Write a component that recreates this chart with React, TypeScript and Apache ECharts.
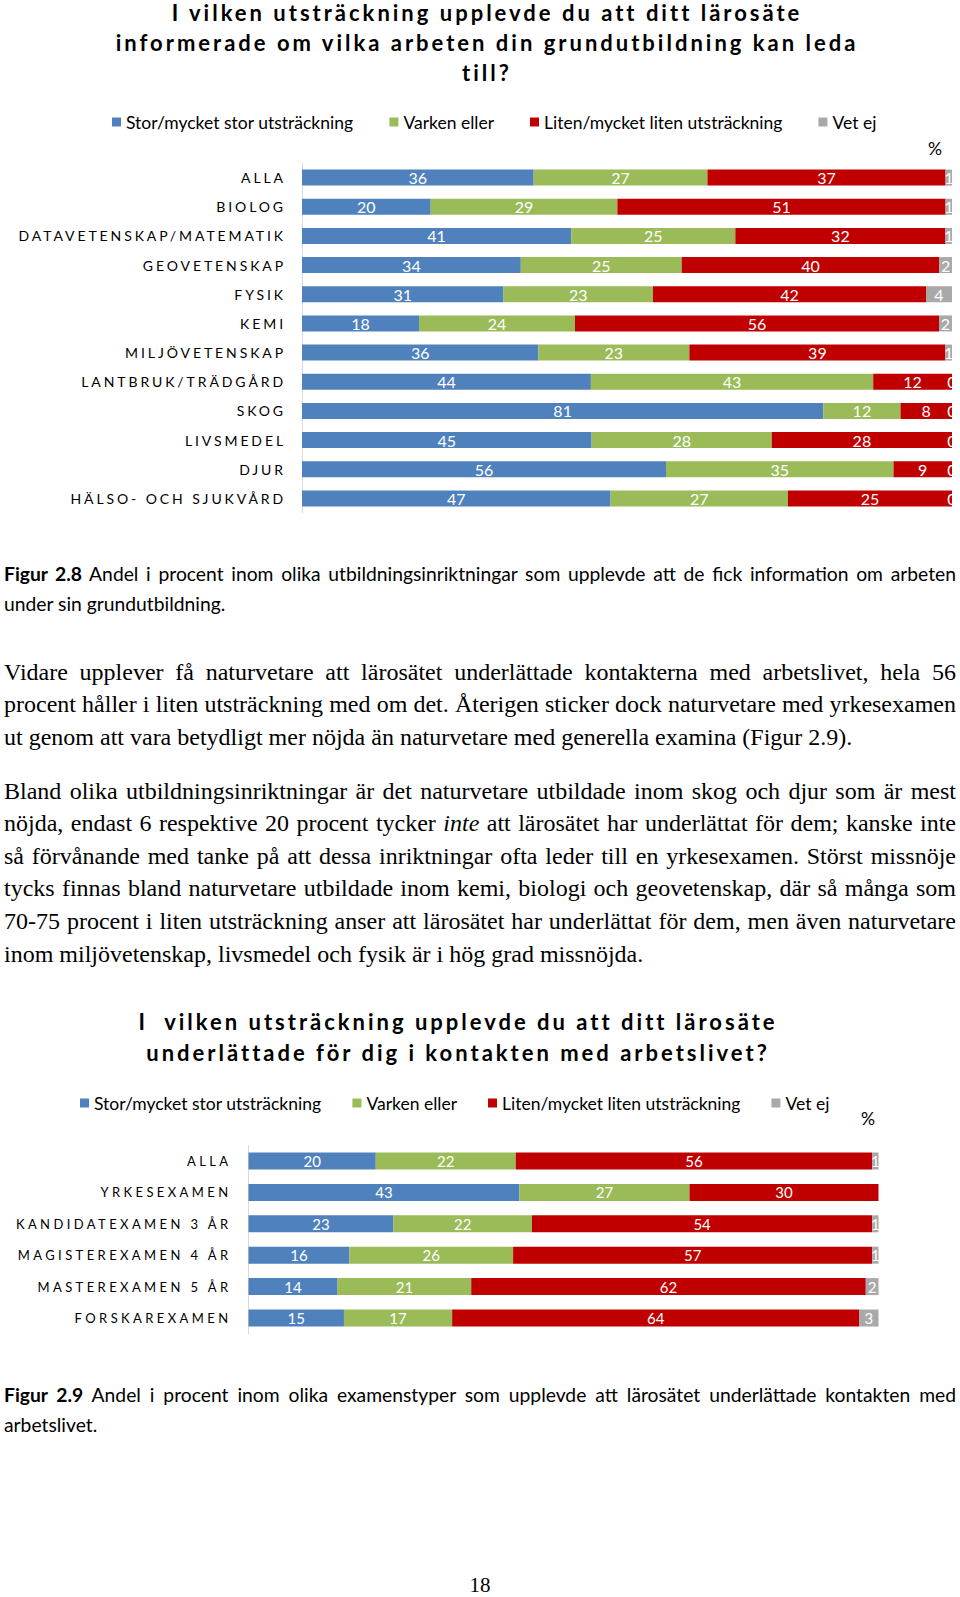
import React, { useEffect, useRef } from 'react';
import * as echarts from 'echarts';

// ---------- data ----------
const SERIES_NAMES = ['Stor/mycket stor utsträckning', 'Varken eller', 'Liten/mycket liten utsträckning', 'Vet ej'];
const COLORS = ['#4F81BD', '#9BBB59', '#C00000', '#A9A9A9'];

const fig1Title = [
  'I vilken utsträckning upplevde du att ditt lärosäte',
  'informerade om vilka arbeten din grundutbildning kan leda',
  'till?',
];
const fig1Categories = [
  'ALLA', 'BIOLOG', 'DATAVETENSKAP/MATEMATIK', 'GEOVETENSKAP', 'FYSIK', 'KEMI',
  'MILJÖVETENSKAP', 'LANTBRUK/TRÄDGÅRD', 'SKOG', 'LIVSMEDEL', 'DJUR', 'HÄLSO- OCH SJUKVÅRD',
];
const fig1Stor = [36, 20, 41, 34, 31, 18, 36, 44, 81, 45, 56, 47];
const fig1Varken = [27, 29, 25, 25, 23, 24, 23, 43, 12, 28, 35, 27];
const fig1Liten = [37, 51, 32, 40, 42, 56, 39, 12, 8, 28, 9, 25];
const fig1VetEj = [1, 1, 1, 2, 4, 2, 1, 0, 0, 0, 0, 0];

const fig2Title = [
  'I  vilken utsträckning upplevde du att ditt lärosäte',
  'underlättade för dig i kontakten med arbetslivet?',
];
const fig2Categories = [
  'ALLA', 'YRKESEXAMEN', 'KANDIDATEXAMEN 3 ÅR', 'MAGISTEREXAMEN 4 ÅR', 'MASTEREXAMEN 5 ÅR', 'FORSKAREXAMEN',
];
const fig2Stor = [20, 43, 23, 16, 14, 15];
const fig2Varken = [22, 27, 22, 26, 21, 17];
const fig2Liten = [56, 30, 54, 57, 62, 64];
const fig2VetEj: (number | null)[] = [1, null, 1, 1, 2, 3];

// ---------- helpers ----------
type Cfg = {
  title: string[];
  titleX: number;
  titleY: number;
  titleLineHeight: number;
  categories: string[];
  values: (number | null)[][];
  grid: { left: number; top: number; width: number; height: number };
  barWidth: number;
  labelFont: number;
  labelMargin: number;
  valueFont: number;
  legendLeft: number;
  legendTop: number;
  legendGap: number;
  pctX: number;
  pctY: number;
};

function buildOption(cfg: Cfg): any {
  const totals = cfg.categories.map((_, i) =>
    cfg.values.reduce((s, arr) => s + (arr[i] == null ? 0 : (arr[i] as number)), 0)
  );
  const series = cfg.values.map((arr, k) => ({
    type: 'bar',
    name: SERIES_NAMES[k],
    stack: 'total',
    barWidth: cfg.barWidth,
    silent: true,
    itemStyle: { color: COLORS[k] },
    label: {
      show: true,
      position: 'inside',
      color: '#ffffff',
      fontFamily: 'Lato',
      fontSize: cfg.valueFont,
      formatter: (p: any) => (p.data && p.data.raw != null ? String(p.data.raw) : ''),
    },
    data: arr.map((v, i) => (v == null ? '-' : { value: (v / totals[i]) * 100, raw: v })),
  }));
  return {
    animation: false,
    backgroundColor: 'transparent',
    legend: {
      data: SERIES_NAMES,
      left: cfg.legendLeft,
      top: cfg.legendTop,
      padding: 0,
      itemWidth: 9,
      itemHeight: 9,
      itemGap: cfg.legendGap,
      icon: 'rect',
      selectedMode: false,
      textStyle: { fontFamily: 'Lato', fontSize: 17.5, color: '#000' },
    },
    grid: { ...cfg.grid },
    xAxis: { type: 'value', min: 0, max: 100, show: false },
    yAxis: {
      type: 'category',
      inverse: true,
      data: cfg.categories,
      axisLine: { show: true, lineStyle: { color: '#D9D9D9', width: 1 } },
      axisTick: { show: false },
      splitLine: { show: false },
      axisLabel: {
        interval: 0,
        margin: cfg.labelMargin,
        fontFamily: 'Lato',
        fontSize: cfg.labelFont,
        color: '#000',
      },
    },
    graphic: [
      {
        type: 'text',
        x: cfg.titleX,
        y: cfg.titleY,
        silent: true,
        style: {
          text: cfg.title.join('\n'),
          fontFamily: 'Lato',
          fontWeight: 'bold',
          fontSize: 22,
          lineHeight: cfg.titleLineHeight,
          fill: '#000',
          align: 'center',
          verticalAlign: 'middle',
        },
      },
      {
        type: 'text',
        x: cfg.pctX,
        y: cfg.pctY,
        silent: true,
        style: {
          text: '%',
          fontFamily: 'Lato',
          fontSize: 17.5,
          fill: '#000',
          align: 'center',
          verticalAlign: 'middle',
        },
      },
    ],
    series,
  };
}

function applySpacing(el: HTMLElement, rules: { set: Set<string>; spacing: number }[]) {
  el.querySelectorAll('text').forEach((t) => {
    const s = (t.textContent || '').trim();
    for (const r of rules) {
      if (r.set.has(s)) {
        t.setAttribute('letter-spacing', r.spacing + 'px');
        break;
      }
    }
  });
}

function BarChart({ cfg, width, height, top, catSpacing, titleSpacing }: any) {
  const ref = useRef<HTMLDivElement>(null);
  useEffect(() => {
    if (!ref.current) return;
    const el = ref.current;
    const chart = echarts.init(el, undefined, { renderer: 'svg' });
    const rules = [
      { set: new Set(cfg.categories.map((c: string) => c.trim())), spacing: catSpacing },
      { set: new Set(cfg.title.map((c: string) => c.trim())), spacing: titleSpacing },
    ];
    const apply = () => applySpacing(el, rules);
    chart.on('finished', apply);
    chart.setOption(buildOption(cfg));
    apply();
    const t = setTimeout(apply, 50);
    const raf = requestAnimationFrame(apply);
    return () => {
      clearTimeout(t);
      cancelAnimationFrame(raf);
      chart.dispose();
    };
  }, []);
  return <div ref={ref} style={{ position: 'absolute', left: 0, top, width, height }} />;
}

const fig1Cfg: Cfg = {
  title: fig1Title,
  titleX: 487,
  titleY: 42.5,
  titleLineHeight: 30,
  categories: fig1Categories,
  values: [fig1Stor, fig1Varken, fig1Liten, fig1VetEj],
  grid: { left: 302, top: 163, width: 650, height: 350 },
  barWidth: 16,
  labelFont: 14,
  labelMargin: 16,
  valueFont: 16,
  legendLeft: 112,
  legendTop: 113,
  legendGap: 36,
  pctX: 935,
  pctY: 148,
};

const fig2Cfg: Cfg = {
  title: fig2Title,
  titleX: 458,
  titleY: 41.5,
  titleLineHeight: 31,
  categories: fig2Categories,
  values: [fig2Stor, fig2Varken, fig2Liten, fig2VetEj],
  grid: { left: 248.5, top: 150.3, width: 630, height: 188.4 },
  barWidth: 17,
  labelFont: 13,
  labelMargin: 17,
  valueFont: 15,
  legendLeft: 80,
  legendTop: 99,
  legendGap: 31,
  pctX: 868,
  pctY: 123,
};

const serif = '"Liberation Serif", "Times New Roman", serif';
const sans = 'Lato, "Open Sans", sans-serif';

function Line({ children, last, ws }: { children: any; last?: boolean; ws: string }) {
  return (
    <div
      style={
        {
          textAlign: last ? 'left' : 'justify',
          textAlignLast: last ? 'left' : 'justify',
          wordSpacing: last ? '0px' : ws,
        } as any
      }
    >
      {children}
    </div>
  );
}

export default function App() {
  const paraStyle: any = {
    position: 'absolute',
    left: 4,
    width: 952,
    fontFamily: serif,
    fontSize: 24,
    lineHeight: '32.6px',
    color: '#000',
  };
  const capStyle: any = {
    position: 'absolute',
    left: 4,
    width: 952,
    fontFamily: sans,
    fontSize: 19.3,
    lineHeight: '29.5px',
    color: '#000',
  };
  const P = '-2px';
  const C = '-1px';
  return (
    <div style={{ position: 'absolute', left: 0, top: 0, width: 960, height: 1597, background: '#fff', overflow: 'hidden' }}>
      <BarChart cfg={fig1Cfg} width={952} height={525} top={0} catSpacing={2.9} titleSpacing={3} />

      <div style={{ ...capStyle, top: 559.3 }}>
        <Line ws={C}>
          <b>Figur 2.8</b> Andel i procent inom olika utbildningsinriktningar som upplevde att de fick information om arbeten
        </Line>
        <Line ws={C} last>under sin grundutbildning.</Line>
      </div>

      <div style={{ ...paraStyle, top: 655.7 }}>
        <Line ws={P}>Vidare upplever få naturvetare att lärosätet underlättade kontakterna med arbetslivet, hela 56</Line>
        <Line ws={P}>procent håller i liten utsträckning med om det. Återigen sticker dock naturvetare med yrkesexamen</Line>
        <Line ws={P} last>ut genom att vara betydligt mer nöjda än naturvetare med generella examina (Figur 2.9).</Line>
      </div>

      <div style={{ ...paraStyle, top: 774.7 }}>
        <Line ws={P}>Bland olika utbildningsinriktningar är det naturvetare utbildade inom skog och djur som är mest</Line>
        <Line ws={P}>
          nöjda, endast 6 respektive 20 procent tycker <i>inte</i> att lärosätet har underlättat för dem; kanske inte
        </Line>
        <Line ws={P}>så förvånande med tanke på att dessa inriktningar ofta leder till en yrkesexamen. Störst missnöje</Line>
        <Line ws={P}>tycks finnas bland naturvetare utbildade inom kemi, biologi och geovetenskap, där så många som</Line>
        <Line ws={P}>70-75 procent i liten utsträckning anser att lärosätet har underlättat för dem, men även naturvetare</Line>
        <Line ws={P} last>inom miljövetenskap, livsmedel och fysik är i hög grad missnöjda.</Line>
      </div>

      <BarChart cfg={fig2Cfg} width={960} height={345} top={995} catSpacing={3.4} titleSpacing={3} />

      <div style={{ ...capStyle, top: 1380 }}>
        <Line ws={C}>
          <b>Figur 2.9</b> Andel i procent inom olika examenstyper som upplevde att lärosätet underlättade kontakten med
        </Line>
        <Line ws={C} last>arbetslivet.</Line>
      </div>

      <div
        style={{
          position: 'absolute',
          left: 0,
          width: 960,
          top: 1572,
          textAlign: 'center',
          fontFamily: serif,
          fontSize: 21,
          lineHeight: '26px',
          color: '#000',
        }}
      >
        18
      </div>
    </div>
  );
}
